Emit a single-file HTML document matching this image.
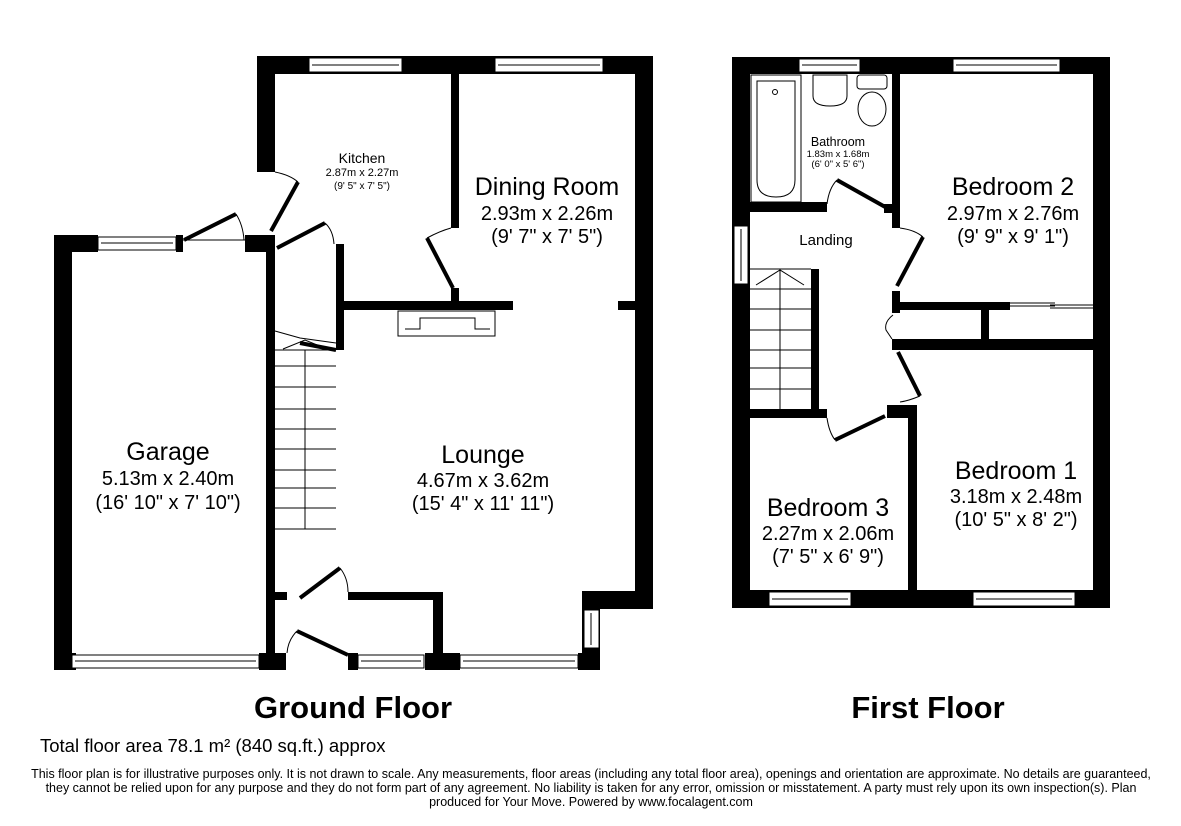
<!DOCTYPE html>
<html><head><meta charset="utf-8"><style>
html,body{margin:0;padding:0;background:#fff;}
svg{display:block;font-family:"Liberation Sans",Arial,sans-serif;}
</style></head><body>
<svg width="1181" height="826" viewBox="0 0 1181 826" xmlns="http://www.w3.org/2000/svg">
<g fill="#000">
<rect x="257" y="56" width="396" height="18"/>
<rect x="257" y="56" width="18" height="116"/>
<rect x="635" y="56" width="18" height="552"/>
<rect x="582" y="591" width="71" height="18"/>
<rect x="582" y="591" width="18" height="79"/>
<rect x="451" y="74" width="8" height="154"/>
<rect x="451" y="288" width="8" height="20"/>
<rect x="344" y="301" width="169" height="9"/>
<rect x="618" y="301" width="18" height="9"/>
<rect x="336" y="244" width="8" height="106"/>
<rect x="54" y="235" width="18" height="435"/>
<rect x="54" y="235" width="44" height="17"/>
<rect x="176" y="235" width="7" height="17"/>
<rect x="245" y="235" width="30" height="17"/>
<rect x="266" y="235" width="9" height="435"/>
<rect x="54" y="653" width="22" height="17"/>
<rect x="259" y="653" width="27" height="17"/>
<rect x="348" y="653" width="10" height="17"/>
<rect x="425" y="653" width="35" height="17"/>
<rect x="578" y="653" width="22" height="17"/>
<rect x="348" y="592" width="95" height="8"/>
<rect x="433" y="592" width="10" height="62"/>
<rect x="275" y="592" width="12" height="8"/>

<rect x="732" y="57" width="378" height="17"/>
<rect x="732" y="57" width="18" height="551"/>
<rect x="1093" y="57" width="17" height="551"/>
<rect x="732" y="590" width="378" height="18"/>
<rect x="750" y="202" width="77" height="10"/>
<rect x="892" y="74" width="8" height="154"/>
<rect x="884" y="204" width="16" height="9"/>
<rect x="892" y="291" width="8" height="22"/>
<rect x="900" y="302" width="110" height="8"/>
<rect x="1093" y="302" width="17" height="8"/>
<rect x="981" y="302" width="8" height="40"/>
<rect x="892" y="339" width="218" height="11"/>
<rect x="908" y="409" width="9" height="182"/>
<rect x="887" y="405" width="30" height="13"/>
<rect x="750" y="409" width="77" height="9"/>
<rect x="811" y="269" width="8" height="149"/>
</g>
<g fill="#fff" stroke="#000" stroke-width="1">
<rect x="309" y="58" width="93" height="14"/><rect x="495" y="58" width="108" height="14"/>
<rect x="98" y="237" width="78" height="13"/>
<rect x="358" y="655" width="66" height="13"/><rect x="460" y="655" width="118" height="13"/>
<rect x="584" y="610" width="15" height="38"/>
<rect x="72" y="655" width="187" height="13"/>
<rect x="799" y="59" width="61" height="13"/><rect x="953" y="59" width="107" height="13"/>
<rect x="734" y="226" width="14" height="58"/>
<rect x="769" y="592" width="82" height="14"/><rect x="973" y="592" width="102" height="14"/>
</g>
<g stroke="#000" stroke-width="1" fill="none">
<line x1="312" y1="65" x2="399" y2="65"/><line x1="498" y1="65" x2="600" y2="65"/>
<line x1="101" y1="243" x2="173" y2="243"/>
<line x1="361" y1="661" x2="421" y2="661"/><line x1="463" y1="661" x2="575" y2="661"/>
<line x1="591" y1="613" x2="591" y2="645"/>
<line x1="75" y1="661" x2="256" y2="661"/>
<line x1="802" y1="65" x2="857" y2="65"/><line x1="956" y1="65" x2="1057" y2="65"/>
<line x1="741" y1="229" x2="741" y2="281"/>
<line x1="772" y1="599" x2="848" y2="599"/><line x1="976" y1="599" x2="1072" y2="599"/>
<rect x="398" y="311" width="97" height="25"/>
<path d="M405 329 H420 V318 H475 V329 H490"/>
<path d="M275 350 H336 M275 366 H336 M275 387 H336 M275 409 H336 M275 429 H336 M275 449 H336 M275 470 H336 M275 488 H336 M275 508 H336 M275 529 H336 M305 350 V529"/>
<path d="M283 349 L305 340 L327 349"/>
<path d="M275 331 L300 338 L336 343"/>
<path d="M750 269 H811 M750 289 H811 M750 309 H811 M750 330 H811 M750 350 H811 M750 368 H811 M750 389 H811 M780 269 V409"/>
<path d="M756 285 L780 270 L804 285"/>
<path d="M1010 303 H1055 M1010 306 H1055 M1050 308 H1093 M1050 305 H1093"/>
<line x1="183" y1="240" x2="245" y2="240"/>
<path d="M275 172 Q290 175 298 182"/>
<path d="M236 214 Q243 225 244 240"/>
<path d="M325 223 Q333 230 334 244"/>
<path d="M427 238 Q440 231 451 228"/>
<path d="M340 568 Q348 578 348 592"/>
<path d="M297 631 Q288 640 287 653"/>
<path d="M837 180 Q829 188 827 204"/>
<path d="M900 228 Q915 230 923 237"/>
<path d="M893 315 Q884 322 886 330 Q890 336 892 339"/>
<path d="M920 396 Q908 401 900 402"/>
<path d="M827 418 Q829 432 835 440"/>
<rect x="751" y="75" width="50" height="127"/>
<path d="M757 81 H795 V180 Q795 197 776 197 Q757 197 757 180 Z"/>
<circle cx="775" cy="92" r="2.5"/>
<path d="M813 75 H847 V96 Q847 106 830 106 Q813 106 813 96 Z"/>
<rect x="857" y="75" width="30" height="14" rx="3"/>
<ellipse cx="872" cy="109" rx="14" ry="17"/>
</g>
<g stroke="#000" stroke-width="4" fill="none">
<line x1="184" y1="240" x2="236" y2="214"/>
<line x1="271" y1="231" x2="298" y2="182"/>
<line x1="277" y1="248" x2="325" y2="223"/>
<line x1="453" y1="288" x2="427" y2="238"/>
<line x1="300" y1="598" x2="340" y2="568"/>
<line x1="297" y1="631" x2="348" y2="655"/>
<line x1="837" y1="180" x2="887" y2="208"/>
<line x1="897" y1="286" x2="923" y2="237"/>
<line x1="898" y1="352" x2="920" y2="396"/>
<line x1="835" y1="440" x2="885" y2="416"/>
<line x1="336" y1="350" x2="300" y2="343"/>
</g>
<g text-anchor="middle" fill="#000">
<text x="362" y="163" font-size="14">Kitchen</text>
<text x="362" y="176" font-size="11">2.87m x 2.27m</text>
<text x="362" y="189" font-size="10">(9' 5" x 7' 5")</text>
<text x="547" y="195" font-size="25">Dining Room</text>
<text x="547" y="220" font-size="20">2.93m x 2.26m</text>
<text x="547" y="243" font-size="20">(9' 7" x 7' 5")</text>
<text x="168" y="460" font-size="25">Garage</text>
<text x="168" y="485" font-size="20">5.13m x 2.40m</text>
<text x="168" y="509" font-size="20">(16' 10" x 7' 10")</text>
<text x="483" y="463" font-size="25">Lounge</text>
<text x="483" y="487" font-size="20">4.67m x 3.62m</text>
<text x="483" y="510" font-size="20">(15' 4" x 11' 11")</text>
<text x="838" y="146" font-size="12.5">Bathroom</text>
<text x="838" y="157" font-size="9.5">1.83m x 1.68m</text>
<text x="838" y="167" font-size="9.5">(6' 0" x 5' 6")</text>
<text x="826" y="245" font-size="15">Landing</text>
<text x="1013" y="195" font-size="25">Bedroom 2</text>
<text x="1013" y="220" font-size="20">2.97m x 2.76m</text>
<text x="1013" y="243" font-size="20">(9' 9" x 9' 1")</text>
<text x="1016" y="479" font-size="25">Bedroom 1</text>
<text x="1016" y="503" font-size="20">3.18m x 2.48m</text>
<text x="1016" y="526" font-size="20">(10' 5" x 8' 2")</text>
<text x="828" y="516" font-size="25">Bedroom 3</text>
<text x="828" y="540" font-size="20">2.27m x 2.06m</text>
<text x="828" y="563" font-size="20">(7' 5" x 6' 9")</text>
<text x="353" y="718" font-size="31" font-weight="bold">Ground Floor</text>
<text x="928" y="718" font-size="31" font-weight="bold">First Floor</text>
<text x="591" y="778" font-size="12.5">This floor plan is for illustrative purposes only. It is not drawn to scale. Any measurements, floor areas (including any total floor area), openings and orientation are approximate. No details are guaranteed,</text>
<text x="591" y="792" font-size="12.5">they cannot be relied upon for any purpose and they do not form part of any agreement. No liability is taken for any error, omission or misstatement. A party must rely upon its own inspection(s).  Plan</text>
<text x="591" y="806" font-size="12.5">produced for Your Move. Powered by www.focalagent.com</text>
</g>
<text x="40" y="752" font-size="18.5">Total floor area 78.1 m² (840 sq.ft.) approx</text>
</svg>
</body></html>
